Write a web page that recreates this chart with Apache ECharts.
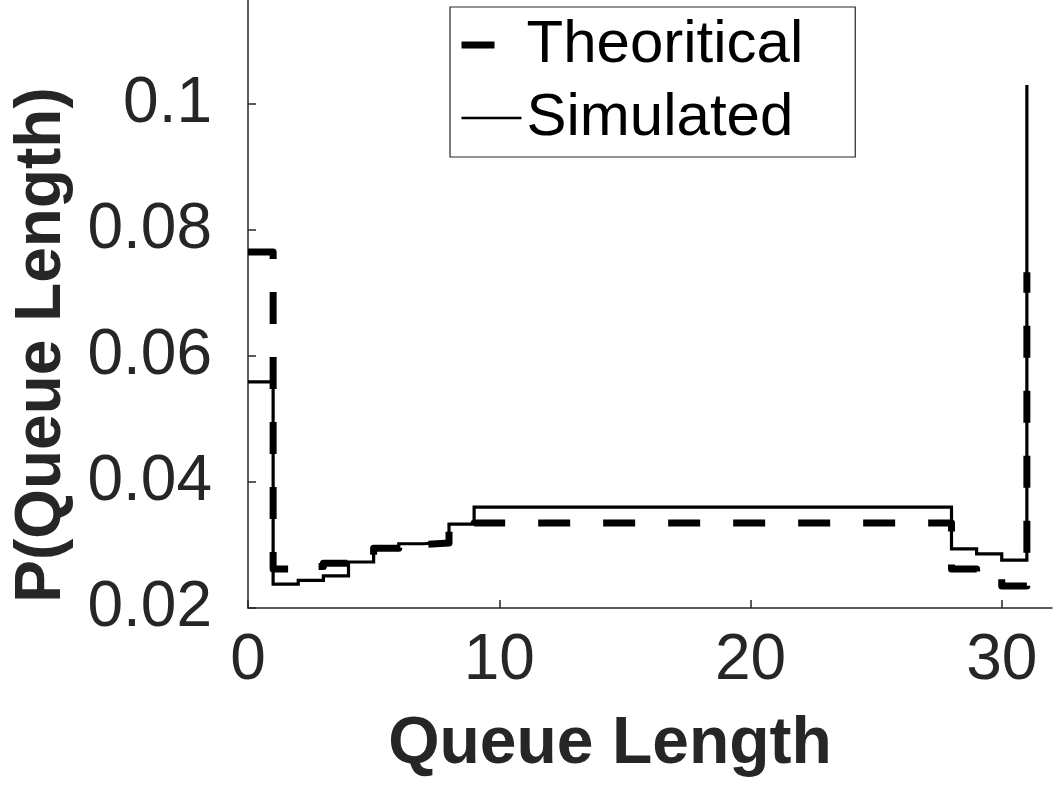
<!DOCTYPE html>
<html>
<head>
<meta charset="utf-8">
<script src="https://cdn.jsdelivr.net/npm/echarts@6/dist/echarts.min.js"></script>
<style>
html,body{margin:0;padding:0;background:#fff;}
#chart{width:1055px;height:789px;}
</style>
</head>
<body>
<div id="chart"></div>
<script>
// Queue lengths (stairs x positions)
const queueLengths = [0,1,2,3,4,5,6,7,8,9,10,11,12,13,14,15,16,17,18,19,20,21,22,23,24,25,26,27,28,29,30,31];
// Theoretical probabilities
const theoretical = [0.0765,0.0262,0.0266,0.0271,0.0274,0.0295,0.0301,0.0303,0.0321,0.0335,0.0335,0.0335,0.0335,0.0335,0.0335,0.0335,0.0335,0.0335,0.0335,0.0335,0.0335,0.0335,0.0335,0.0335,0.0335,0.0335,0.0335,0.0335,0.0262,0.0250,0.0235,0.0733];
// Simulated probabilities
const simulated = [0.0559,0.0238,0.0244,0.0251,0.0273,0.0295,0.0302,0.0305,0.0333,0.0360,0.0360,0.0360,0.0360,0.0360,0.0360,0.0360,0.0360,0.0360,0.0360,0.0360,0.0360,0.0360,0.0360,0.0360,0.0360,0.0360,0.0360,0.0360,0.0294,0.0286,0.0276,0.1030];
const xTicks = [0,10,20,30];
const yTicks = [0.02,0.04,0.06,0.08,0.1];
const seriesNames = ['Theoritical','Simulated'];

const zip = (xs, ys) => xs.map((x, i) => [x, ys[i]]);
const axisColor = '#262626';

const chart = echarts.init(document.getElementById('chart'), null, {renderer: 'canvas'});
chart.setOption({
  animation: false,
  backgroundColor: '#fff',
  grid: {left: 248, right: 3, top: -22, bottom: 181, containLabel: false, outerBoundsMode: 'none'},
  legend: {
    left: 450, top: 7,
    orient: 'vertical',
    data: [
      {name: seriesNames[0], itemStyle: {opacity: 0}, lineStyle: {color: '#000', width: 7, type: [33, 200], cap: 'butt'}},
      {name: seriesNames[1], itemStyle: {opacity: 0}, lineStyle: {color: '#000', width: 2.5, type: 'solid'}}
    ],
    itemWidth: 60, itemHeight: 20, itemGap: 13,
    padding: [8, 52, 9, 8],
    borderColor: axisColor, borderWidth: 1.2, borderRadius: 0,
    backgroundColor: '#fff',
    textStyle: {fontFamily: 'Liberation Sans', fontSize: 60, color: '#000', lineHeight: 60},
    selectedMode: false
  },
  xAxis: {
    type: 'value', min: 0, max: 32, interval: 10,
    name: 'Queue Length', nameLocation: 'middle', nameGap: 104,
    nameTextStyle: {fontFamily: 'Liberation Sans', fontSize: 66, fontWeight: 'bold', color: axisColor, padding: [0, 80, 0, 0]},
    axisLine: {show: true, onZero: false, lineStyle: {color: axisColor, width: 1.5}},
    axisTick: {show: true, inside: true, length: 8, customValues: xTicks, lineStyle: {color: axisColor, width: 1.5}},
    axisLabel: {customValues: xTicks, margin: 21, fontFamily: 'Liberation Sans', fontSize: 64, color: axisColor},
    splitLine: {show: false}
  },
  yAxis: {
    type: 'value', min: 0.02, max: 0.12, interval: 0.02,
    name: 'P(Queue Length)', nameLocation: 'middle', nameGap: 174,
    nameTextStyle: {fontFamily: 'Liberation Sans', fontSize: 64, fontWeight: 'bold', color: axisColor, padding: [0, 104, 0, 0]},
    axisLine: {show: true, onZero: false, lineStyle: {color: axisColor, width: 1.5}},
    axisTick: {show: true, inside: true, length: 8, customValues: yTicks, lineStyle: {color: axisColor, width: 1.5}},
    axisLabel: {customValues: yTicks, margin: 36, fontFamily: 'Liberation Sans', fontSize: 64, color: axisColor,
      formatter: v => String(+v.toFixed(4))},
    splitLine: {show: false}
  },
  series: [
    {
      name: seriesNames[0], type: 'line', step: 'end', symbol: 'none',
      data: zip(queueLengths, theoretical),
      lineStyle: {color: '#000', width: 7, type: [32, 33], cap: 'butt', join: 'round'},
      itemStyle: {color: '#000'}, z: 2
    },
    {
      name: seriesNames[1], type: 'line', step: 'end', symbol: 'none',
      data: zip(queueLengths, simulated),
      lineStyle: {color: '#000', width: 3.2, type: 'solid', join: 'miter'},
      itemStyle: {color: '#000'}, z: 3
    }
  ]
});
</script>
</body>
</html>
